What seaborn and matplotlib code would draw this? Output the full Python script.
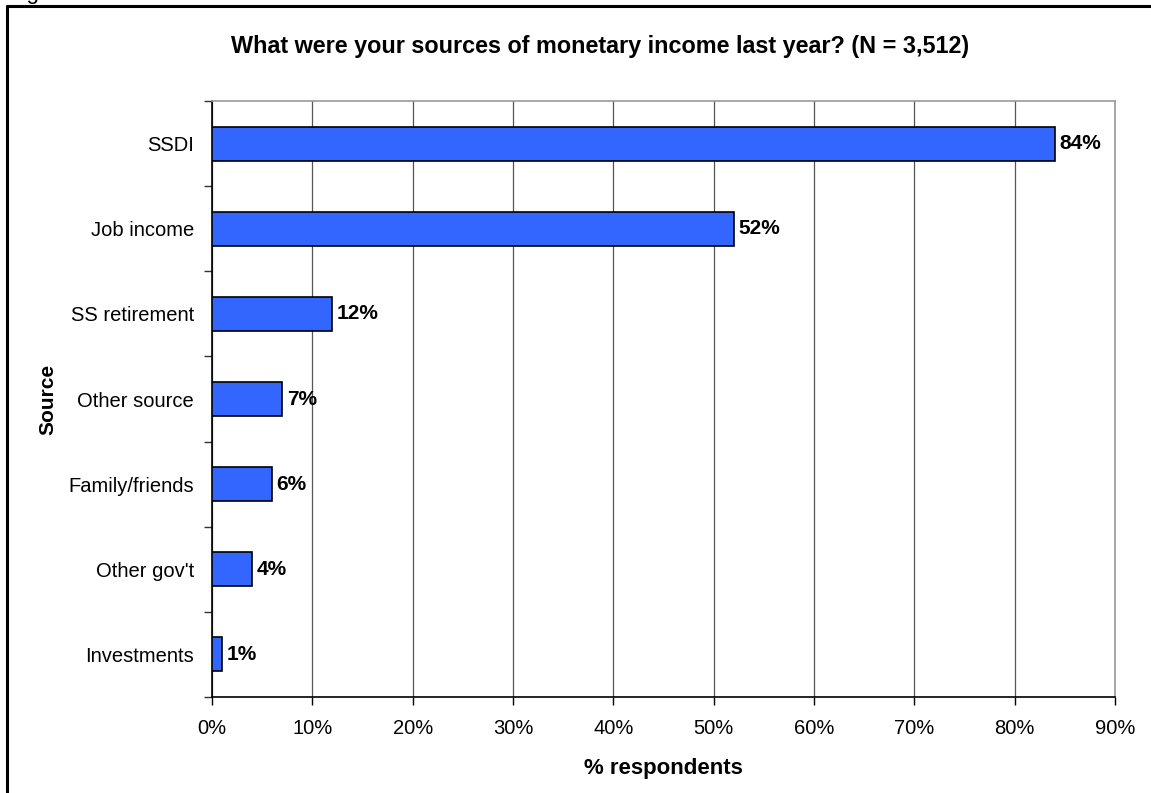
import matplotlib
matplotlib.use("Agg")
import matplotlib.pyplot as plt
import seaborn as sns
import pandas as pd
from matplotlib.lines import Line2D
from matplotlib.ticker import FixedLocator, PercentFormatter

sources = ["SSDI", "Job income", "SS retirement", "Other source",
           "Family/friends", "Other gov't", "Investments"]
pct = [84, 52, 12, 7, 6, 4, 1]
x_ticks = [0, 10, 20, 30, 40, 50, 60, 70, 80, 90]

sns.set_theme(style="white")
plt.rcParams["font.family"] = ["Liberation Sans", "DejaVu Sans"]
plt.rcParams["text.color"] = "black"
plt.rcParams["axes.labelcolor"] = "black"

df = pd.DataFrame({"Source": sources, "Percent": pct})

W, H = 1151, 793
fig = plt.figure(figsize=(W / 100, H / 100), dpi=100)
ax = fig.add_axes([212 / W, 1 - 697 / H, (1115 - 212) / W, (697 - 101) / H])

sns.barplot(data=df, y="Source", x="Percent", orient="h", ax=ax,
            color="#3366ff", saturation=1, width=0.4,
            edgecolor="black", linewidth=1.2, zorder=3)

ax.set_xlim(0, 90)
ax.set_ylim(len(sources) - 0.5, -0.5)
ax.xaxis.set_major_locator(FixedLocator(x_ticks))
ax.xaxis.set_major_formatter(PercentFormatter(decimals=0))
ax.grid(axis="x", color="#555555", linewidth=0.9, zorder=0)
ax.set_axisbelow(True)

# category labels centred on bars, tick marks on the boundaries between them
ax.set_yticks(range(len(sources)))
ax.set_yticklabels(sources)
ax.tick_params(axis="y", which="major", length=0, pad=13, labelsize=14.5, colors="black")
ax.set_yticks([i - 0.5 for i in range(len(sources) + 1)], minor=True)
ax.tick_params(axis="y", which="minor", length=6, width=1, color="#333333", direction="out", left=True)
ax.tick_params(axis="x", length=6, width=1, color="black", direction="out",
               bottom=True, labelsize=14.5, pad=10, colors="black")

for side in ["left", "bottom"]:
    ax.spines[side].set_color("black")
    ax.spines[side].set_linewidth(1.2)
for side in ["top", "right"]:
    ax.spines[side].set_color("#999999")
    ax.spines[side].set_linewidth(1.2)

for i, v in enumerate(pct):
    ax.text(v + 0.45, i, f"{v}%", va="center", ha="left",
            fontsize=15, fontweight="bold", color="black")

ax.set_xlabel("% respondents", fontsize=16, fontweight="bold", labelpad=14)
ax.set_ylabel("Source", fontsize=15, fontweight="bold", labelpad=8)

fig.text(600 / W, 1 - 47 / H, "What were your sources of monetary income last year? (N = 3,512)",
         ha="center", va="center", fontsize=16.8, fontweight="bold")

# caption line above the frame, mostly outside the canvas
fig.text(8 / W, 1 + 1 / H, "Figure", ha="left", va="baseline", fontsize=16)

# outer frame around the chart
fig.add_artist(Line2D([7 / W, 7 / W], [0, 1 - 6 / H], transform=fig.transFigure,
                      color="black", linewidth=2.2))
fig.add_artist(Line2D([7 / W, 1], [1 - 6 / H, 1 - 6 / H], transform=fig.transFigure,
                      color="black", linewidth=2.2))

fig.savefig("out.png", dpi=100, facecolor="white")
